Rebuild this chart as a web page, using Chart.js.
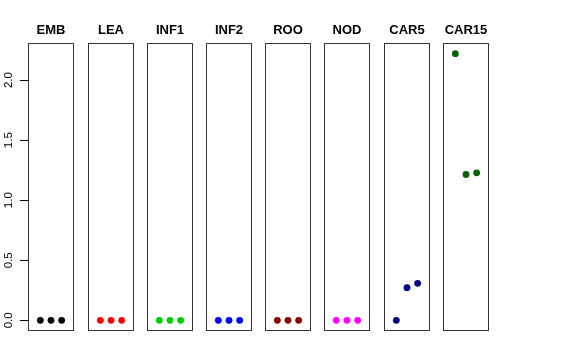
<!DOCTYPE html>
<html>
<head>
<meta charset="utf-8">
<script src="https://cdn.jsdelivr.net/npm/chart.js@4/dist/chart.umd.min.js"></script>
<style>
  html, body { margin: 0; padding: 0; background: #ffffff; }
  #wrap { position: relative; width: 576px; height: 360px; background: #ffffff; overflow: hidden; }
  #wrap canvas { position: absolute; top: 0; }
</style>
</head>
<body>
<div id="wrap"></div>
<script>
// ---- data ----
const categories = ['EMB', 'LEA', 'INF1', 'INF2', 'ROO', 'NOD', 'CAR5', 'CAR15'];
const xValues = [1, 2, 3];
const valuesEMB = [0, 0, 0];
const valuesLEA = [0, 0, 0];
const valuesINF1 = [0, 0, 0];
const valuesINF2 = [0, 0, 0];
const valuesROO = [0, 0, 0];
const valuesNOD = [0, 0, 0];
const valuesCAR5 = [0, 0.272, 0.308];
const valuesCAR15 = [2.22, 1.214, 1.228];
const seriesColors = ['#000000', '#FF0000', '#00CD00', '#0000FF', '#8B0000', '#FF00FF', '#000080', '#006400'];
const yTickValues = [0, 0.5, 1, 1.5, 2];
const yTickLabels = ['0.0', '0.5', '1.0', '1.5', '2.0'];

const allSeries = [valuesEMB, valuesLEA, valuesINF1, valuesINF2, valuesROO, valuesNOD, valuesCAR5, valuesCAR15];

// ---- layout ----
const boxLefts = [28, 88, 147, 206, 265, 324, 384, 443];
const boxWidth = 46;
const boxTop = 43;
const boxBottom = 331;
const H = 360;
const margin = 10;

// y range: data range expanded by 4% each side
const yMaxData = Math.max(...allSeries.flat());
const yMinData = Math.min(...allSeries.flat());
const ySpan = yMaxData - yMinData;
const yMin = yMinData - 0.04 * ySpan;
const yMax = yMaxData + 0.04 * ySpan;
const xMin = 0 - 0.04 * 4;
const xMax = 4 + 0.04 * 4;

const panelPlugin = {
  id: 'panelDecor',
  afterDraw(chart, args, opts) {
    const ctx = chart.ctx;
    const a = chart.chartArea;
    ctx.save();
    // box
    ctx.strokeStyle = '#333333';
    ctx.lineWidth = 1;
    ctx.strokeRect(a.left + 0.5, a.top + 0.5, a.right - a.left - 1, a.bottom - a.top - 1);
    // title
    ctx.fillStyle = '#000000';
    ctx.font = 'bold 13px "Liberation Sans", Arial, sans-serif';
    ctx.textAlign = 'center';
    ctx.textBaseline = 'alphabetic';
    ctx.fillText(opts.title, (a.left + a.right) / 2, 34);
    // y axis
    if (opts.showY) {
      const ys = chart.scales.y;
      ctx.strokeStyle = '#000000';
      ctx.beginPath();
      yTickValues.forEach((v) => {
        const py = Math.round(ys.getPixelForValue(v)) + 0.5;
        ctx.moveTo(a.left - 8, py);
        ctx.lineTo(a.left, py);
      });
      ctx.stroke();
      ctx.font = '11.5px "Liberation Sans", Arial, sans-serif';
      ctx.textAlign = 'center';
      ctx.textBaseline = 'alphabetic';
      yTickValues.forEach((v, k) => {
        const py = ys.getPixelForValue(v);
        ctx.save();
        ctx.translate(12, py);
        ctx.rotate(-Math.PI / 2);
        ctx.fillText(yTickLabels[k], 0, 0);
        ctx.restore();
      });
    }
    ctx.restore();
  }
};

const wrap = document.getElementById('wrap');
categories.forEach((name, i) => {
  const first = i === 0;
  const canvas = document.createElement('canvas');
  const left = first ? 0 : boxLefts[i] - margin;
  const padLeft = first ? boxLefts[0] : margin;
  const w = padLeft + boxWidth + margin;
  canvas.width = w;
  canvas.height = H;
  canvas.style.left = left + 'px';
  canvas.style.width = w + 'px';
  canvas.style.height = H + 'px';
  wrap.appendChild(canvas);
  new Chart(canvas, {
    type: 'scatter',
    data: {
      datasets: [{
        label: name,
        data: xValues.map((x, j) => ({ x: x, y: allSeries[i][j] })),
        backgroundColor: seriesColors[i],
        borderColor: seriesColors[i],
        borderWidth: 0,
        pointRadius: 3.4,
        pointHoverRadius: 3.4
      }]
    },
    options: {
      responsive: false,
      animation: false,
      devicePixelRatio: 1,
      events: [],
      layout: { padding: { left: padLeft, right: margin, top: boxTop, bottom: H - boxBottom } },
      plugins: {
        legend: { display: false },
        title: { display: false },
        tooltip: { enabled: false },
        panelDecor: { title: name, showY: first }
      },
      scales: {
        x: { type: 'linear', min: xMin, max: xMax, display: false },
        y: { type: 'linear', min: yMin, max: yMax, display: false }
      }
    },
    plugins: [panelPlugin]
  });
});
</script>
</body>
</html>
